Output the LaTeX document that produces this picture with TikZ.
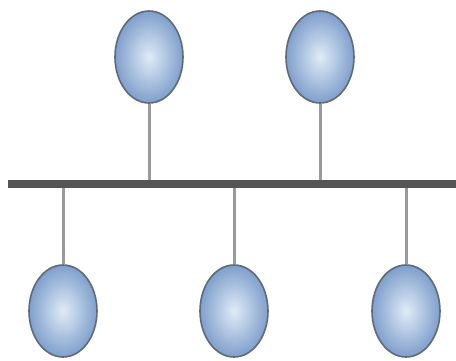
\documentclass[tikz,border=0pt]{standalone}
\usetikzlibrary{shapes.geometric}
\definecolor{busgray}{HTML}{555555}
\definecolor{linkgray}{HTML}{9A9A9A}
\definecolor{ringcol}{HTML}{5F6B7A}
\definecolor{blueout}{HTML}{7F9FCC}
\definecolor{bluein}{HTML}{E0ECF7}
\tikzset{
  host/.style={ellipse, draw=ringcol, line width=1.6pt, minimum width=68pt, minimum height=92pt, inner sep=0pt, shading=radial, inner color=bluein, outer color=blueout},
  bus/.style={draw=busgray, line width=7.5pt},
  link/.style={draw=linkgray, line width=3pt}
}
\begin{document}
\begin{tikzpicture}[x=1pt,y=-1pt]
\useasboundingbox (0,0) rectangle (456,360);
\coordinate (busL) at (8,184);
\coordinate (busR) at (456,184);
\node[host] (t1) at (149,57) {};
\node[host] (t2) at (320,57) {};
\node[host] (b1) at (63,311) {};
\node[host] (b2) at (234,311) {};
\node[host] (b3) at (406,311) {};
\draw[link] (t1.south) -- (t1.south |- busL);
\draw[link] (t2.south) -- (t2.south |- busL);
\draw[link] (b1.north) -- (b1.north |- busL);
\draw[link] (b2.north) -- (b2.north |- busL);
\draw[link] (b3.north) -- (b3.north |- busL);
\draw[bus] (busL) -- (busR);
\end{tikzpicture}
\end{document}
